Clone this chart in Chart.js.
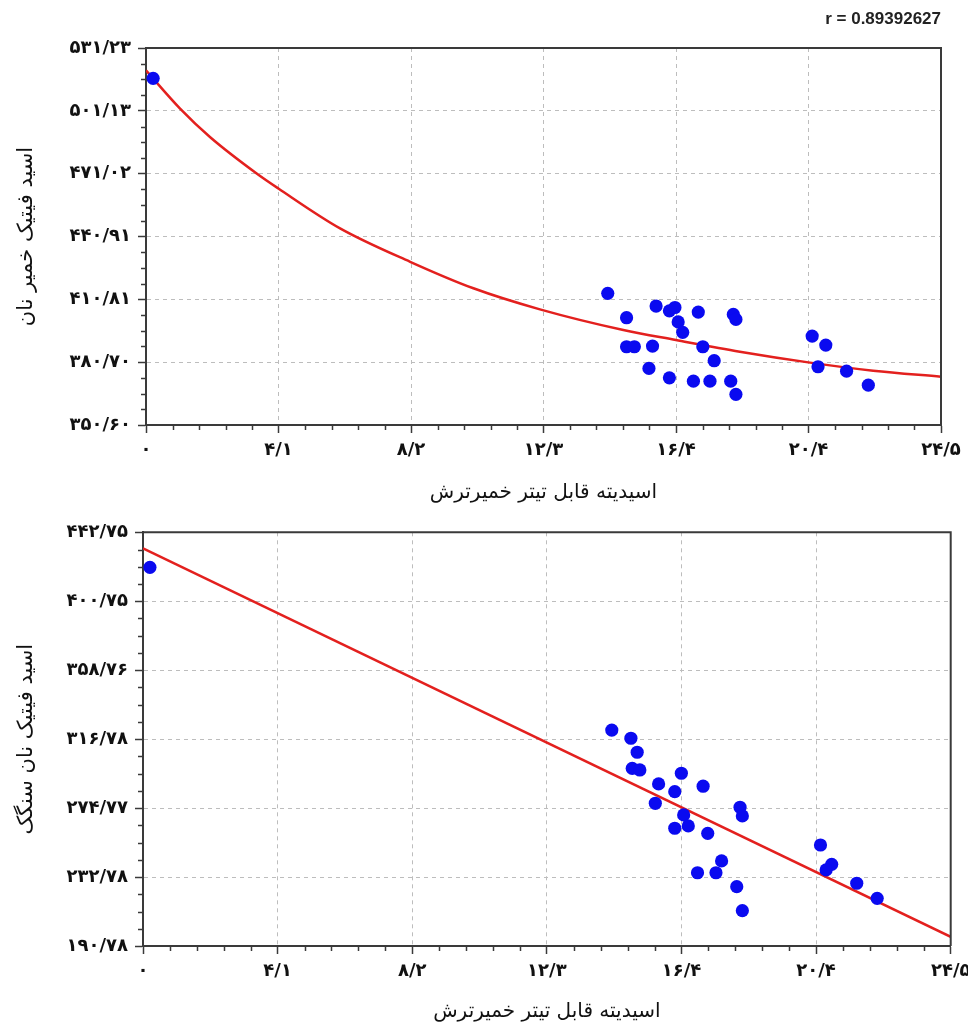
<!DOCTYPE html>
<html>
<head>
<meta charset="utf-8">
<script src="https://cdn.jsdelivr.net/npm/chart.js@4"></script>
<style>
  html, body { margin: 0; padding: 0; background: #ffffff; }
  #wrap { position: relative; width: 968px; height: 1030px; }
  canvas { position: absolute; left: 0; }
  #dough { top: 0; }
  #bread { top: 510px; }
</style>
</head>
<body>
<div id="wrap">
  <canvas id="dough" width="968" height="510"></canvas>
  <canvas id="bread" width="968" height="520"></canvas>
</div>
<script>
// Titratable acidity of sourdough vs. phytic acid in dough (upper panel)
const acidityDough = [0.22, 14.23, 14.81, 14.81, 15.05, 15.61, 15.72, 15.50, 16.13, 16.30, 16.40, 16.54, 16.13, 17.02,
                      17.16, 17.51, 16.87, 17.38, 18.10, 18.18, 18.02, 18.18, 20.53, 20.95, 20.71, 21.59, 22.26];
const phyticDough  = [516.7, 413.7, 402.0, 388.1, 388.1, 388.4, 407.6, 377.7, 405.3, 406.9, 400.0, 395.0, 373.2, 404.7,
                      388.1, 381.4, 371.6, 371.6, 403.6, 401.2, 371.6, 365.3, 393.2, 388.9, 378.5, 376.4, 369.7];
// fitted curve through the dough values
const curveAcidity = [0, 1.05, 1.97, 3.41, 4.08, 5.98, 8.14, 10.09, 12.14, 14.71, 16.33, 18.30, 20.41, 22.41, 24.5];
const curvePhytic  = [520.5, 502.2, 488.6, 471.1, 463.9, 444.8, 428.8, 416.1, 406.0, 396.1, 391.3, 385.7, 380.6, 376.6, 373.7];

// Titratable acidity of sourdough vs. phytic acid in Sangak bread (lower panel)
const acidityBread = [0.21, 14.22, 14.80, 14.99, 14.84, 15.07, 15.64, 15.54, 16.33, 16.13, 16.99, 16.40, 16.54, 16.13,
                      17.13, 18.11, 18.18, 17.55, 17.38, 16.82, 18.01, 18.18, 20.55, 20.89, 20.72, 21.65, 22.27];
const phyticBread  = [421.4, 322.3, 317.3, 308.8, 299.0, 298.0, 289.5, 277.7, 296.0, 284.8, 288.1, 270.6, 263.9, 262.5,
                      259.4, 275.3, 270.0, 242.6, 235.4, 235.4, 226.9, 212.3, 252.3, 240.5, 237.1, 229.0, 219.8];
// fitted straight line through the bread values
const lineAcidity = [0, 24.5];
const linePhytic  = [433.0, 196.4];

// axis ranges and tick labels
const acidityRange = [0, 24.5];
const doughRange = [350.60, 531.23];
const breadRange = [190.78, 442.75];
const acidityTicks = ['۰', '۴/۱', '۸/۲', '۱۲/۳', '۱۶/۴', '۲۰/۴', '۲۴/۵'];
const doughTicks = ['۳۵۰/۶۰', '۳۸۰/۷۰', '۴۱۰/۸۱', '۴۴۰/۹۱', '۴۷۱/۰۲', '۵۰۱/۱۳', '۵۳۱/۲۳'];
const breadTicks = ['۱۹۰/۷۸', '۲۳۲/۷۸', '۲۷۴/۷۷', '۳۱۶/۷۸', '۳۵۸/۷۶', '۴۰۰/۷۵', '۴۴۲/۷۵'];

const xTitle = 'اسیدیته قابل تیتر خمیرترش';
const doughTitle = 'اسید فیتیک خمیر نان';
const breadTitle = 'اسید فیتیک نان سنگک';
const corrText = 'r = 0.89392627';

const FA_FONT = '"DejaVu Sans", "Noto Sans", sans-serif';
const AXIS_COLOR = '#3a3a3a';

const pairs = (xs, ys) => xs.map((x, i) => ({ x, y: ys[i] }));

// box around the plot plus the short minor tick marks
const frameAndMinorTicks = {
  id: 'frameAndMinorTicks',
  afterDraw(chart) {
    const { ctx, chartArea: a, scales } = chart;
    ctx.save();
    ctx.strokeStyle = AXIS_COLOR;
    ctx.lineWidth = 1.5;
    const minor = (scale, parts, horizontal) => {
      const step = (scale.max - scale.min) / 6;
      for (let i = 0; i < 6; i++) {
        for (let j = 1; j < parts; j++) {
          const p = Math.round(scale.getPixelForValue(scale.min + step * (i + j / parts))) + 0.5;
          ctx.beginPath();
          if (horizontal) { ctx.moveTo(p, a.bottom); ctx.lineTo(p, a.bottom + 5); }
          else { ctx.moveTo(a.left - 5, p); ctx.lineTo(a.left, p); }
          ctx.stroke();
        }
      }
    };
    minor(scales.x, 5, true);
    minor(scales.y, 4, false);
    ctx.lineWidth = 2;
    ctx.beginPath();
    ctx.moveTo(a.left, a.top);
    ctx.lineTo(a.right, a.top);
    ctx.lineTo(a.right, a.bottom);
    ctx.stroke();
    ctx.restore();
  }
};

function evenTicks(labels) {
  return scale => {
    const step = (scale.max - scale.min) / (labels.length - 1);
    scale.ticks = labels.map((_, i) => ({ value: scale.min + i * step }));
  };
}

function buildChart(canvasId, opts) {
  const gridOpts = {
    color: '#bdbdbd', lineWidth: 1,
    tickColor: AXIS_COLOR, tickLength: 8, tickWidth: 1.5
  };
  const borderOpts = { color: AXIS_COLOR, width: 2, dash: [4, 4] };
  return new Chart(document.getElementById(canvasId), {
    type: 'scatter',
    data: {
      datasets: [
        {
          data: pairs(opts.xs, opts.ys),
          backgroundColor: '#0a0af0', borderColor: '#0a0af0',
          pointRadius: 6.6, pointHoverRadius: 6.6, borderWidth: 0, order: 0
        },
        {
          type: 'line',
          data: pairs(opts.fitX, opts.fitY),
          borderColor: '#e3201e', borderWidth: 2.5, pointRadius: 0,
          fill: false, showLine: true,
          cubicInterpolationMode: 'monotone', order: 1
        }
      ]
    },
    options: {
      responsive: false, animation: false, events: [],
      layout: { padding: opts.padding },
      plugins: {
        legend: { display: false },
        tooltip: { enabled: false },
        title: opts.title || { display: false }
      },
      scales: {
        x: {
          type: 'linear', position: 'bottom',
          min: acidityRange[0], max: acidityRange[1],
          afterBuildTicks: evenTicks(acidityTicks),
          afterFit: s => { s.height = opts.xHeight; s.paddingLeft = 0; s.paddingRight = 0; },
          ticks: {
            autoSkip: false, maxRotation: 0, padding: 7, color: '#111',
            font: { family: FA_FONT, size: 18, weight: 'bold' },
            callback: (v, i) => acidityTicks[i]
          },
          grid: gridOpts, border: borderOpts,
          title: {
            display: true, text: xTitle, color: '#111',
            font: { family: FA_FONT, size: 20 },
            padding: { top: 0, bottom: opts.xTitleBottom }
          }
        },
        y: {
          type: 'linear', position: 'left',
          min: opts.yRange[0], max: opts.yRange[1],
          afterBuildTicks: evenTicks(opts.yTicks),
          afterFit: s => { s.width = opts.yWidth; s.paddingTop = 0; s.paddingBottom = 0; },
          ticks: {
            autoSkip: false, padding: 7, color: '#111',
            font: { family: FA_FONT, size: 18, weight: 'bold' },
            callback: (v, i) => opts.yTicks[i]
          },
          grid: gridOpts, border: borderOpts,
          title: {
            display: true, text: opts.yTitle, color: '#111',
            font: { family: FA_FONT, size: 21 },
            padding: { top: 14, bottom: 0 }
          }
        }
      }
    },
    plugins: [frameAndMinorTicks]
  });
}

buildChart('dough', {
  xs: acidityDough, ys: phyticDough, fitX: curveAcidity, fitY: curvePhytic,
  yRange: doughRange, yTicks: doughTicks, yTitle: doughTitle,
  yWidth: 146, xHeight: 85, xTitleBottom: 5,
  padding: { left: 0, top: 0, right: 27, bottom: 0 },
  title: {
    display: true, text: corrText, align: 'end', color: '#222',
    font: { family: '"Liberation Sans", Arial, sans-serif', size: 17, weight: 'bold' },
    padding: { top: 8.8, bottom: 18.8 }
  }
});

buildChart('bread', {
  xs: acidityBread, ys: phyticBread, fitX: lineAcidity, fitY: linePhytic,
  yRange: breadRange, yTicks: breadTicks, yTitle: breadTitle,
  yWidth: 143, xHeight: 84, xTitleBottom: 6,
  padding: { left: 0, top: 22.3, right: 17.3, bottom: 0 }
});
</script>
</body>
</html>
